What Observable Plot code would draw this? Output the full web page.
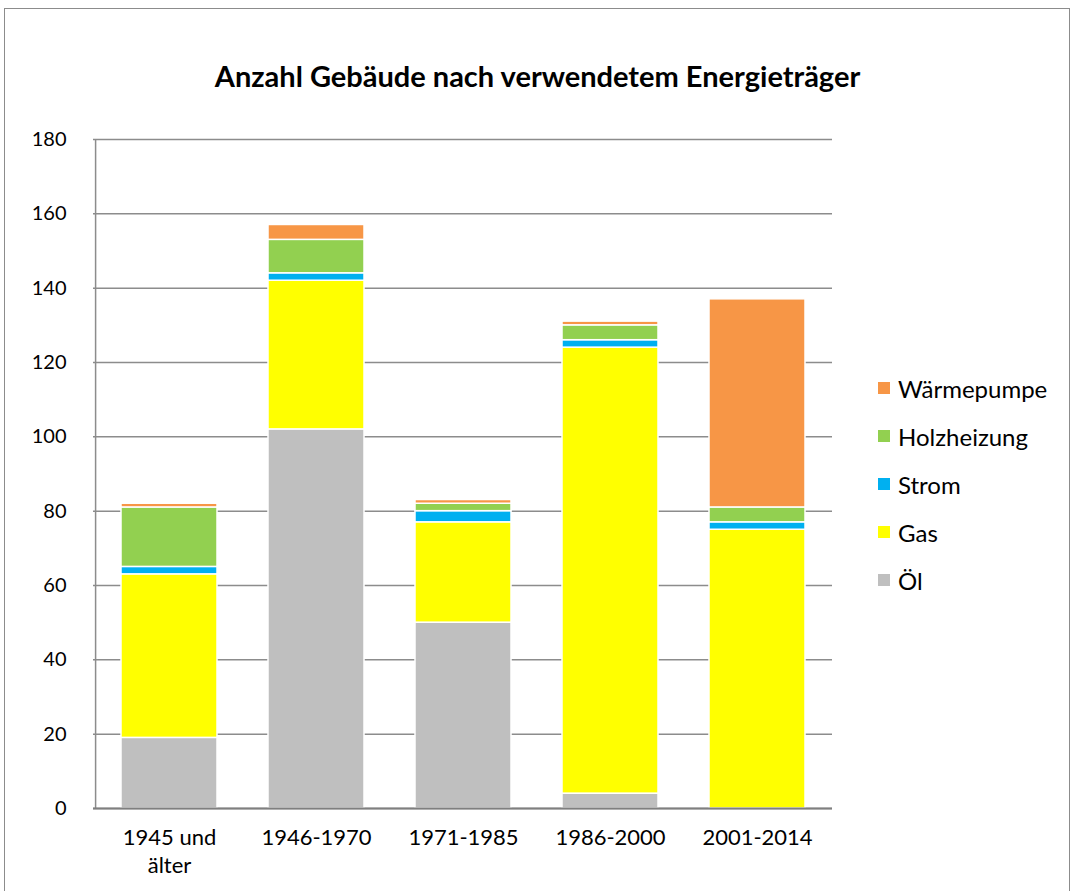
<!DOCTYPE html>
<html>
<head>
<meta charset="utf-8">
<script src="https://cdn.jsdelivr.net/npm/d3@7"></script>
<script src="https://cdn.jsdelivr.net/npm/@observablehq/plot@0.6"></script>
<style>
  body { margin: 0; background: #fff; font-family: Lato, "Open Sans", sans-serif; }
  #wrap { position: relative; width: 1075px; height: 891px; overflow: hidden; }
  #frame { position: absolute; left: 4px; top: 8px; width: 1066px; height: 900px; border: 1.5px solid #8c8c8c; box-sizing: border-box; }
  #title { position: absolute; left: 0; width: 1075px; top: 58px; text-align: center; font-size: 29px; font-weight: bold; color: #000; }
  #chart { position: absolute; left: 0; top: 0; }
  #legend { position: absolute; left: 878px; top: 364px; }
  .item { display: flex; align-items: center; height: 48px; font-size: 24px; color: #000; }
  .sw { width: 12px; height: 12px; margin-right: 8px; }
</style>
</head>
<body>
<div id="wrap">
  <div id="frame"></div>
  <div id="chart"></div>
  <div id="title">Anzahl Gebäude nach verwendetem Energieträger</div>
  <div id="legend"></div>
</div>
<script>
const categories = ["1945 und\nälter", "1946-1970", "1971-1985", "1986-2000", "2001-2014"];
const series = ["Öl", "Gas", "Strom", "Holzheizung", "Wärmepumpe"];
const colors = ["#BFBFBF", "#FFFF00", "#00B0F0", "#92D050", "#F79646"];
const oel = [19, 102, 50, 4, 0];
const gas = [44, 40, 27, 120, 75];
const strom = [2, 2, 3, 2, 2];
const holz = [16, 9, 2, 4, 4];
const waerme = [1, 4, 1, 1, 56];
const yTicks = [0, 20, 40, 60, 80, 100, 120, 140, 160, 180];

const seriesValues = [oel, gas, strom, holz, waerme];
const data = [];
series.forEach((s, si) => categories.forEach((c, ci) => data.push({cat: c, series: s, value: seriesValues[si][ci]})));

const plotW = 1075 - 93 - 243;
const step = plotW / categories.length;

const chart = Plot.plot({
  width: 1075,
  height: 891,
  marginLeft: 93,
  marginRight: 243,
  marginTop: 139,
  marginBottom: 83,
  style: {fontFamily: "Lato, 'Open Sans', sans-serif", fontSize: "20px", color: "#000", background: "transparent"},
  x: {domain: categories, paddingInner: 0.35, paddingOuter: 0.175, label: null},
  y: {domain: [0, 180], ticks: yTicks, label: null},
  color: {domain: series, range: colors},
  marks: [
    Plot.gridY(yTicks, {stroke: "#8c8c8c", strokeOpacity: 1, strokeWidth: 1.5}),
    Plot.ruleX([categories[0]], {y1: 0, y2: 180, stroke: "#8c8c8c", strokeWidth: 1.5, dx: -step / 2}),
    Plot.barY(data, Plot.stackY({order: series}, {x: "cat", y: "value", z: "series", fill: "series", stroke: "white", strokeWidth: 1.5})),
    Plot.ruleY([0], {stroke: "#7f7f7f", strokeWidth: 2}),
    Plot.axisY(yTicks, {tickSize: 0, tickPadding: 27, label: null, fontSize: 20}),
    Plot.axisX({tickSize: 0, tickPadding: 17, label: null, fontSize: 22, lineHeight: 1.25})
  ]
});
document.getElementById("chart").appendChild(chart);

const legend = document.getElementById("legend");
series.slice().reverse().forEach((s) => {
  const i = series.indexOf(s);
  const d = document.createElement("div");
  d.className = "item";
  d.innerHTML = `<span class="sw" style="background:${colors[i]}"></span><span>${s}</span>`;
  legend.appendChild(d);
});
</script>
</body>
</html>
